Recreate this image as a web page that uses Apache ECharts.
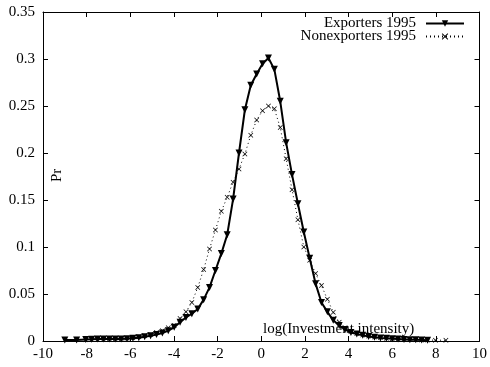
<!DOCTYPE html>
<html><head><meta charset="utf-8">
<script src="https://cdn.jsdelivr.net/npm/echarts@6/dist/echarts.min.js"></script>
<style>html,body{margin:0;padding:0;background:#fff}#c{width:490px;height:367px}</style>
</head><body><div id="c"></div>
<script>
// Exporters 1995: [log(Investment intensity), Pr]
var exportersX = [-9.0,-8.46,-8.04,-7.77,-7.50,-7.23,-6.96,-6.69,-6.42,-6.15,-5.88,-5.61,-5.34,-5.07,-4.80,-4.53,-4.26,-3.99,-3.72,-3.45,-3.18,-2.91,-2.64,-2.37,-2.10,-1.83,-1.56,-1.29,-1.02,-0.75,-0.48,-0.21,0.06,0.33,0.60,0.87,1.14,1.41,1.68,1.95,2.22,2.49,2.76,3.03,3.30,3.57,3.84,4.11,4.38,4.65,4.92,5.19,5.46,5.73,6.00,6.27,6.54,6.81,7.08,7.35,7.62];
var exportersY = [0.001,0.001,0.0015,0.0018,0.002,0.002,0.0022,0.0022,0.0022,0.0025,0.0028,0.0035,0.0045,0.0055,0.0068,0.0085,0.011,0.0145,0.020,0.025,0.029,0.034,0.044,0.057,0.075,0.093,0.113,0.151,0.200,0.246,0.272,0.284,0.295,0.301,0.289,0.255,0.211,0.177,0.146,0.116,0.088,0.061,0.041,0.031,0.022,0.0165,0.0123,0.009,0.0075,0.006,0.0048,0.004,0.0033,0.0028,0.0024,0.002,0.0017,0.0014,0.0012,0.001,0.0008];
// Nonexporters 1995
var nonexportersX = [-8.04,-7.77,-7.50,-7.23,-6.96,-6.69,-6.42,-6.15,-5.88,-5.61,-5.34,-5.07,-4.80,-4.53,-4.26,-3.99,-3.72,-3.45,-3.18,-2.91,-2.64,-2.37,-2.10,-1.83,-1.56,-1.29,-1.02,-0.75,-0.48,-0.21,0.06,0.33,0.60,0.87,1.14,1.41,1.68,1.95,2.22,2.49,2.76,3.03,3.30,3.57,3.84,4.11,4.38,4.65,4.92,5.19,5.46,5.73,6.00,6.27,6.54,6.81,7.08,7.35,7.62,7.98,8.46];
var nonexportersY = [0.0012,0.0015,0.0017,0.0019,0.002,0.0022,0.0025,0.003,0.0035,0.0045,0.0055,0.007,0.009,0.011,0.014,0.0165,0.024,0.031,0.041,0.057,0.076,0.098,0.118,0.138,0.153,0.169,0.183,0.199,0.219,0.235,0.245,0.250,0.247,0.227,0.194,0.161,0.129,0.100,0.086,0.0717,0.059,0.0443,0.0307,0.020,0.014,0.010,0.008,0.0065,0.0052,0.0043,0.0036,0.003,0.0025,0.0021,0.0018,0.0015,0.0013,0.0011,0.001,0.0009,0.0008];
var xTicks = {min: -10, max: 10, interval: 2};
var yTicks = {min: 0, max: 0.35, interval: 0.05};
var seriesNames = ['Exporters 1995', 'Nonexporters 1995'];
var xTitle = 'log(Investment intensity)';
var yTitle = 'Pr';

function pairs(xs, ys){ return xs.map(function(x,i){ return [x, ys[i]]; }); }
var FONT = 'Liberation Serif';
var crossPath = 'path://M0,1L1,0L5,4L9,0L10,1L6,5L10,9L9,10L5,6L1,10L0,9L4,5Z';

var chart = echarts.init(document.getElementById('c'), null, {renderer:'canvas'});
var axisCommon = {
  axisLine:{show:true, onZero:false, lineStyle:{color:'#000', width:1}},
  axisTick:{show:true, inside:true, length:5, lineStyle:{color:'#000'}},
  splitLine:{show:false}
};
chart.setOption({
  animation:false,
  backgroundColor:'#fff',
  grid:{left:43, right:5, top:12, bottom:26},
  legend:{
    orient:'vertical', right:20, top:11, align:'right', itemGap:-2,
    itemWidth:38, itemHeight:8,
    textStyle:{fontFamily:FONT, fontSize:15, color:'#000', padding:[0,5,0,0]},
    data:seriesNames
  },
  xAxis:[
    Object.assign({type:'value', position:'bottom', min:xTicks.min, max:xTicks.max, interval:xTicks.interval,
      axisLabel:{fontFamily:FONT, fontSize:15, color:'#000', margin:6, showMaxLabel:true}}, axisCommon),
    Object.assign({type:'value', position:'top', min:xTicks.min, max:xTicks.max, interval:xTicks.interval,
      axisLabel:{show:false}}, axisCommon)
  ],
  yAxis:[
    Object.assign({type:'value', position:'left', min:yTicks.min, max:yTicks.max, interval:yTicks.interval,
      axisLabel:{fontFamily:FONT, fontSize:15, color:'#000', margin:8}}, axisCommon),
    Object.assign({type:'value', position:'right', min:yTicks.min, max:yTicks.max, interval:yTicks.interval,
      axisLabel:{show:false}}, axisCommon)
  ],
  graphic:[
    {type:'text', left:263, top:322, z:0, style:{text:xTitle, font:'15px "'+FONT+'"', fill:'#000'}},
    {type:'text', x:50, y:182, rotation:Math.PI/2, z:0, style:{text:yTitle, font:'15px "'+FONT+'"', fill:'#000'}}
  ],
  series:[
    {name:seriesNames[0], type:'line', data:pairs(exportersX, exportersY), z:3,
      symbol:'triangle', symbolRotate:180, symbolSize:[7,7], showAllSymbol:true,
      lineStyle:{color:'#000', width:2}, itemStyle:{color:'#000'}},
    {name:seriesNames[1], type:'line', data:pairs(nonexportersX, nonexportersY), z:2,
      symbol:crossPath, symbolSize:5, showAllSymbol:true,
      lineStyle:{color:'#000', width:1, type:[1,3]}, itemStyle:{color:'#000'}}
  ]
});
</script></body></html>
